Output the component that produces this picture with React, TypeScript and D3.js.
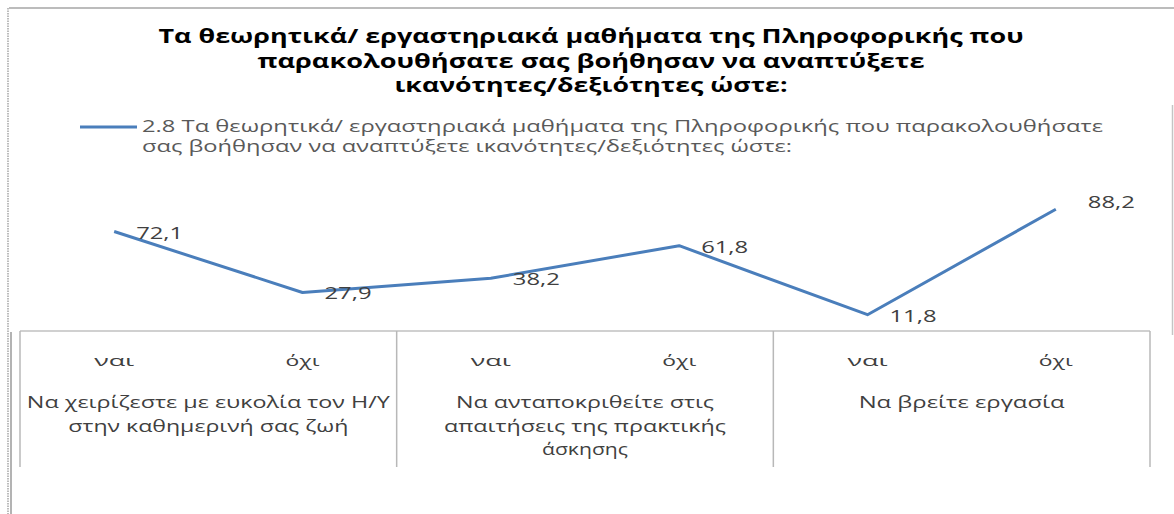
import React from "react";
import * as d3 from "d3";

const categories = ["ναι", "όχι", "ναι", "όχι", "ναι", "όχι"];
const values = [72.1, 27.9, 38.2, 61.8, 11.8, 88.2];
const valueLabels = ["72,1", "27,9", "38,2", "61,8", "11,8", "88,2"];
const groups = [
  ["Να χειρίζεστε με ευκολία τον Η/Υ", "στην καθημερινή σας ζωή"],
  ["Να ανταποκριθείτε στις", "απαιτήσεις της πρακτικής", "άσκησης"],
  ["Να βρείτε εργασία"],
];
const titleLines = [
  "Τα θεωρητικά/ εργαστηριακά μαθήματα της Πληροφορικής που",
  "παρακολουθήσατε σας βοήθησαν να αναπτύξετε",
  "ικανότητες/δεξιότητες ώστε:",
];
const legendLines = [
  "2.8 Τα θεωρητικά/ εργαστηριακά μαθήματα της Πληροφορικής που παρακολουθήσατε",
  "σας βοήθησαν να αναπτύξετε ικανότητες/δεξιότητες ώστε:",
];

const W = 1174;
const H = 514;
const FONT = "'Open Sans', 'Noto Sans', sans-serif";
const BLUE = "#4a7ebb";

export default function App() {
  const x = d3.scaleBand<number>().domain(d3.range(categories.length)).range([20, 1150]);
  const y = d3.scaleLinear().domain([0, 100]).range([331, 193]);
  const cx = (i: number) => (x(i) as number) + x.bandwidth() / 2;
  const line = d3
    .line<number>()
    .x((_, i) => cx(i))
    .y((d) => y(d));

  const groupW = x.bandwidth() * 2;
  const groupX = (g: number) => 20 + g * groupW;

  const titleW = [865, 667, 393];
  const legendW = [961, 650];
  const groupLineW = [
    [363, 280],
    [258, 282, 86],
    [206],
  ];
  const labelNudge = [
    [0, 0],
    [0, 0],
    [0, 0],
    [0, 0],
    [0, 0],
    [10, -8],
  ];

  return (
    <svg
      width={W}
      height={H}
      style={{ position: "absolute", left: 0, top: 0, background: "#fff" }}
    >
      {/* frame */}
      <line x1={9} y1={8} x2={W} y2={8} stroke="#a6a6a6" strokeWidth={1.5} />
      <line x1={8} y1={8} x2={8} y2={H} stroke="#a6a6a6" strokeWidth={1.5} strokeDasharray="1.5 1" />
      <line x1={11} y1={332} x2={11} y2={H} stroke="#9a9a9a" strokeWidth={1.5} />
      <line x1={1172.5} y1={105} x2={1172.5} y2={335} stroke="#c4c4c4" strokeWidth={1.5} />

      {/* title */}
      {titleLines.map((t, i) => (
        <text
          key={i}
          x={591}
          y={43 + i * 24.5}
          textAnchor="middle"
          fontFamily={FONT}
          fontWeight="bold"
          fontSize={19}
          fill="#000"
          textLength={titleW[i]}
          lengthAdjust="spacingAndGlyphs"
        >
          {t}
        </text>
      ))}

      {/* legend */}
      <line x1={80} y1={127} x2={137} y2={127} stroke={BLUE} strokeWidth={3} />
      {legendLines.map((t, i) => (
        <text
          key={i}
          x={142}
          y={132 + i * 20}
          fontFamily={FONT}
          fontSize={15.5}
          fill="#595959"
          textLength={legendW[i]}
          lengthAdjust="spacingAndGlyphs"
        >
          {t}
        </text>
      ))}

      {/* category table */}
      <line x1={20} y1={331} x2={1150} y2={331} stroke="#c0c0c0" strokeWidth={1.5} />
      {d3.range(groups.length + 1).map((g) => (
        <line
          key={g}
          x1={groupX(g)}
          y1={331}
          x2={groupX(g)}
          y2={467}
          stroke="#b8b8b8"
          strokeWidth={1.5}
        />
      ))}
      {categories.map((c, i) => (
        <text
          key={i}
          x={cx(i)}
          y={366}
          textAnchor="middle"
          fontFamily={FONT}
          fontSize={15}
          fill="#404040"
          textLength={c === "ναι" ? 40 : 34}
          lengthAdjust="spacingAndGlyphs"
        >
          {c}
        </text>
      ))}
      {groups.map((lines, g) =>
        lines.map((t, j) => (
          <text
            key={g + "-" + j}
            x={groupX(g) + groupW / 2}
            y={408 + j * 23.5}
            textAnchor="middle"
            fontFamily={FONT}
            fontSize={16}
            fill="#404040"
            textLength={groupLineW[g][j]}
            lengthAdjust="spacingAndGlyphs"
          >
            {t}
          </text>
        ))
      )}

      {/* series */}
      <path d={line(values) || ""} fill="none" stroke={BLUE} strokeWidth={3} strokeLinejoin="round" />
      {values.map((v, i) => (
        <text
          key={i}
          x={cx(i) + 22 + labelNudge[i][0]}
          y={y(v) + 7 + labelNudge[i][1]}
          fontFamily={FONT}
          fontSize={16}
          fill="#404040"
          textLength={47}
          lengthAdjust="spacingAndGlyphs"
        >
          {valueLabels[i]}
        </text>
      ))}
    </svg>
  );
}
